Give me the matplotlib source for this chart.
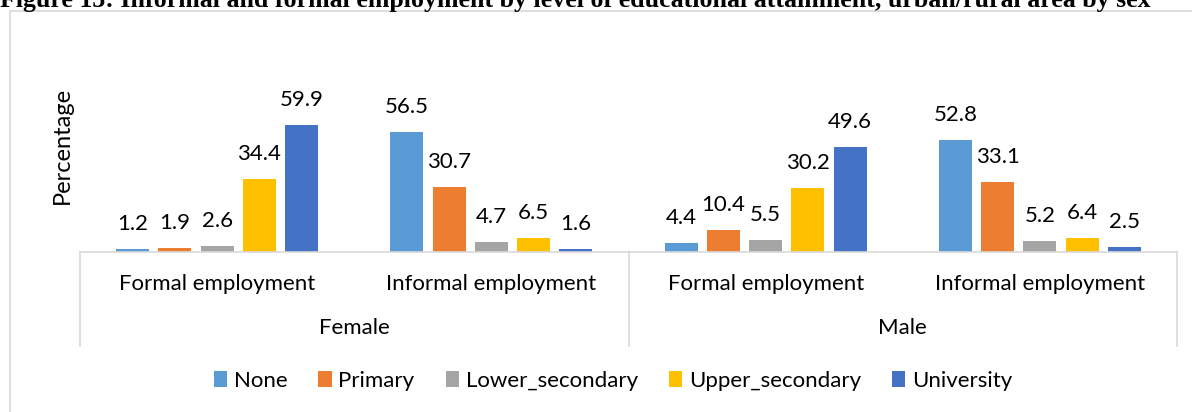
import matplotlib.pyplot as plt
from matplotlib.patches import Patch, Rectangle
import numpy as np

plt.rcParams['font.family'] = ['Lato', 'DejaVu Sans']

categories = ["Formal employment", "Informal employment", "Formal employment", "Informal employment"]
groups = ["Female", "Male"]
levels = ["None", "Primary", "Lower_secondary", "Upper_secondary", "University"]
colors = ["#5B9BD5", "#ED7D31", "#A5A5A5", "#FFC000", "#4472C4"]

none_vals = [1.2, 56.5, 4.4, 52.8]
primary_vals = [1.9, 30.7, 10.4, 33.1]
lower_vals = [2.6, 4.7, 5.5, 5.2]
upper_vals = [34.4, 6.5, 30.2, 6.4]
univ_vals = [59.9, 1.6, 49.6, 2.5]
series = [none_vals, primary_vals, lower_vals, upper_vals, univ_vals]

W, H = 1192, 412
fig = plt.figure(figsize=(W / 100, H / 100), dpi=100)

# outer chart frame (clipped at right/bottom like the source)
fig.patches.append(Rectangle((9.5 / W, -0.1), 1.2, 1 - 11 / H + 0.1, transform=fig.transFigure,
                             fill=False, edgecolor="#D9D9D9", linewidth=1.2))

ymax = 70
px_per_unit = 2.12
ax_bottom = 252
ax_h = ymax * px_per_unit
ax = fig.add_axes([80 / W, 1 - ax_bottom / H, (1177 - 80) / W, ax_h / H])

fs = 16
x = np.arange(len(categories))
step, width = 0.154, 0.12
for i, (vals, col) in enumerate(zip(series, colors)):
    xs = x + (i - 2) * step
    ax.bar(xs, vals, width=width, color=col, zorder=2)
    for xi, v in zip(xs, vals):
        ax.annotate(f"{v:.1f}", (xi, v), xytext=(0, 18), textcoords="offset points",
                    ha="center", va="center", fontsize=fs, color="#000000")

ax.set_xlim(-0.5, 3.5)
ax.set_ylim(0, ymax)
for s in ["top", "right", "left"]:
    ax.spines[s].set_visible(False)
ax.spines["bottom"].set_color("#D9D9D9")
ax.spines["bottom"].set_linewidth(1.2)
ax.set_yticks([])
ax.set_xticks(x)
ax.set_xticklabels(categories, fontsize=fs)
ax.tick_params(axis="x", length=0, pad=16)

# separators of the two-level category axis
sep_y = -(346 - ax_bottom) / ax_h
for xv in [-0.5, 1.5, 3.5]:
    ax.plot([xv, xv], [0, sep_y], transform=ax.get_xaxis_transform(), color="#D9D9D9",
            linewidth=1.2, clip_on=False)

grp_y = -(328 - ax_bottom) / ax_h
for gx, g in zip([0.5, 2.5], groups):
    ax.text(gx, grp_y, g, transform=ax.get_xaxis_transform(), ha="center", va="center", fontsize=fs)

fig.text(62 / W, 1 - 145 / H, "Percentage", rotation=90, ha="center", va="center", fontsize=17)

fig.text(0, 1 - 7 / H, "Figure 13: Informal and formal employment by level of educational attainment, urban/rural area by sex",
         ha="left", va="baseline", fontsize=18.6, fontweight="bold", family=["Liberation Serif", "DejaVu Serif"])

handles = [Patch(facecolor=c, label=l) for c, l in zip(colors, levels)]
fig.legend(handles=handles, loc="center", bbox_to_anchor=(613 / W, 1 - 381 / H), ncol=5, frameon=False,
           fontsize=fs, handlelength=0.6, handleheight=0.7, handletextpad=0.3, columnspacing=1.4)

fig.savefig("out.png", dpi=100)
